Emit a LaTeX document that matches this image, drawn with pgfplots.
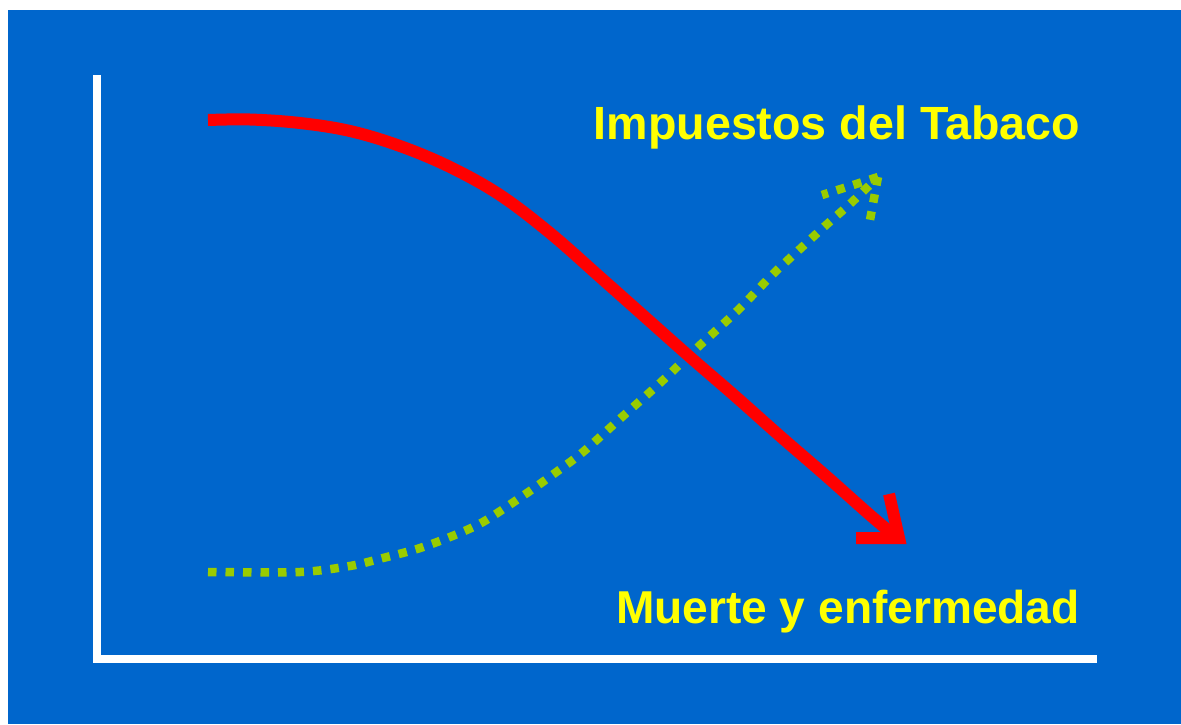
\documentclass[border=0pt]{standalone}
\usepackage{pgfplots}
\pgfplotsset{compat=1.18}
\usepackage{fontspec}
\setmainfont{Liberation Sans}
\definecolor{bgblue}{HTML}{0066CC}
\definecolor{dotgreen}{HTML}{99CC00}
\definecolor{txtyellow}{HTML}{FFFF00}
\definecolor{curvered}{HTML}{FF0000}
\begin{document}
\begin{tikzpicture}
\begin{axis}[
  scale only axis, width=1181pt, height=724pt,
  xmin=0, xmax=1181, ymin=0, ymax=724, y dir=reverse,
  hide axis, clip=false,
]
\fill[white] (axis cs:0,0) rectangle (axis cs:1181,724);
\fill[bgblue] (axis cs:8,10) rectangle (axis cs:1181,724);
% axes lines
\addplot[white, line width=8pt, line cap=butt] coordinates {(97,75) (97,663)};
\addplot[white, line width=8pt, line cap=butt] coordinates {(93,659) (1097,659)};
% green dotted curve (Impuestos)
\addplot[dotgreen, line width=8.5pt, dash pattern=on 8.5pt off 9pt, smooth, tension=0.5] coordinates {
(208,572) (300,572) (350,566) (383,558) (417,549) (450,537) (483,522) (527,493)
(555,473) (583,452) (622,417) (660,383) (698,347) (737,311) (773,274) (800,249)
(825,226) (851,203) (878,177)};
\addplot[dotgreen, line width=8.5pt, dash pattern=on 8.5pt off 9pt] coordinates {(878,177) (822,195)};
\addplot[dotgreen, line width=8.5pt, dash pattern=on 8.5pt off 9pt] coordinates {(878,177) (870,220)};
% red curve (Muerte)
\addplot[curvered, line width=12pt, smooth, tension=0.6, line cap=butt] coordinates {
(208,120) (250,119.5) (300,123) (350,131) (400,146) (450,167) (500,195) (550,233)
(600,277) (645,317) (690,357) (735,396) (780,436) (825,475) (870,515) (895,536)};
\addplot[curvered, line width=12pt, line join=miter, line cap=butt] coordinates {(856,538) (899,538) (889,494)};
\node[anchor=base east, inner sep=0pt, text=txtyellow, font=\fontsize{46.6}{50}\selectfont\bfseries] at (axis cs:1080,139) {Impuestos del Tabaco};
\node[anchor=base east, inner sep=0pt, text=txtyellow, font=\fontsize{46.1}{50}\selectfont\bfseries] at (axis cs:1080,623) {Muerte y enfermedad};
\end{axis}
\end{tikzpicture}
\end{document}
